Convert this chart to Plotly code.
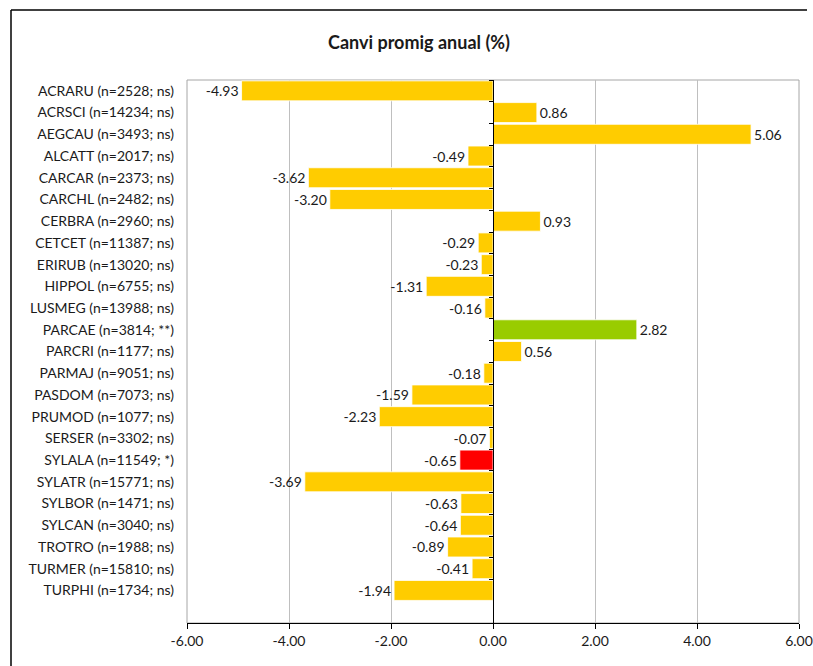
import plotly.graph_objects as go

species = ["ACRARU", "ACRSCI", "AEGCAU", "ALCATT", "CARCAR", "CARCHL", "CERBRA", "CETCET",
           "ERIRUB", "HIPPOL", "LUSMEG", "PARCAE", "PARCRI", "PARMAJ", "PASDOM", "PRUMOD",
           "SERSER", "SYLALA", "SYLATR", "SYLBOR", "SYLCAN", "TROTRO", "TURMER", "TURPHI"]
n_obs = [2528, 14234, 3493, 2017, 2373, 2482, 2960, 11387,
         13020, 6755, 13988, 3814, 1177, 9051, 7073, 1077,
         3302, 11549, 15771, 1471, 3040, 1988, 15810, 1734]
signif = ["ns", "ns", "ns", "ns", "ns", "ns", "ns", "ns",
          "ns", "ns", "ns", "**", "ns", "ns", "ns", "ns",
          "ns", "*", "ns", "ns", "ns", "ns", "ns", "ns"]
change = [-4.93, 0.86, 5.06, -0.49, -3.62, -3.20, 0.93, -0.29,
          -0.23, -1.31, -0.16, 2.82, 0.56, -0.18, -1.59, -2.23,
          -0.07, -0.65, -3.69, -0.63, -0.64, -0.89, -0.41, -1.94]
x_ticks = [-6, -4, -2, 0, 2, 4, 6]
x_tick_labels = ["-6.00", "-4.00", "-2.00", "0.00", "2.00", "4.00", "6.00"]

labels = [f"{s} (n={n}; {g})" for s, n, g in zip(species, n_obs, signif)]
value_texts = [f"{v:.2f}" for v in change]


def color_for(v, g):
    if g == "ns":
        return "#FFCC00"
    return "#99CC00" if v > 0 else "#FF0000"


colors = [color_for(v, g) for v, g in zip(change, signif)]

FONT = "Lato"
L, R, T, B = 187, 14, 80, 43
W, H = 813, 666
pw, ph = W - L - R, H - T - B


def px_x(p):
    return (p - L) / pw


def px_y(p):
    return (H - B - p) / ph


fig = go.Figure()
fig.add_trace(go.Bar(
    x=change, y=labels, orientation="h",
    marker=dict(color=colors, line=dict(color="white", width=0.8)),
    text=value_texts, textposition="outside", constraintext="none",
    textfont=dict(family=FONT, size=14, color="#1a1a1a"),
    cliponaxis=False, yaxis="y", hoverinfo="skip",
))
fig.add_trace(go.Scatter(
    x=[0] * len(labels), y=labels, yaxis="y2", mode="markers",
    marker=dict(opacity=0), hoverinfo="skip", showlegend=False,
))

fig.update_layout(
    width=W, height=H,
    margin=dict(l=L, r=R, t=T, b=B),
    paper_bgcolor="white", plot_bgcolor="white",
    showlegend=False, bargap=0.08,
    font=dict(family=FONT, size=14, color="#1a1a1a"),
    xaxis=dict(
        range=[-6, 6], tickvals=x_ticks, ticktext=x_tick_labels, automargin=False,
        showgrid=True, gridcolor="#BFBFBF", gridwidth=1, zeroline=False,
        showline=True, linecolor="black", linewidth=1,
        ticks="outside", ticklen=5, tickcolor="black",
        tickfont=dict(family=FONT, size=14, color="#1a1a1a"),
    ),
    yaxis=dict(
        type="category", categoryorder="array", categoryarray=labels, automargin=False,
        range=[24.5, -0.5], showgrid=False, zeroline=False, showline=False,
        ticks="", ticklabelstandoff=12,
        tickfont=dict(family=FONT, size=14, color="#1a1a1a"),
    ),
    yaxis2=dict(
        type="category", categoryorder="array", categoryarray=labels, automargin=False,
        range=[24.5, -0.5], overlaying="y", anchor="free", position=0.5, side="left",
        showline=True, linecolor="black", linewidth=1,
        ticks="outside", ticklen=4, tickcolor="black", tickson="boundaries",
        showticklabels=False, showgrid=False, zeroline=False,
    ),
    shapes=[
        dict(type="rect", xref="paper", yref="paper", x0=0, x1=1, y0=0, y1=1,
             line=dict(color="#A6A6A6", width=1), layer="below"),
        dict(type="line", xref="paper", yref="paper", x0=px_x(11), x1=px_x(807),
             y0=px_y(10), y1=px_y(10), line=dict(color="black", width=1.5)),
        dict(type="line", xref="paper", yref="paper", x0=px_x(11), x1=px_x(11),
             y0=px_y(666), y1=px_y(10), line=dict(color="black", width=1.5)),
    ],
    annotations=[
        dict(text="<b>Canvi promig anual (%)</b>", xref="paper", yref="paper",
             x=px_x(419), y=px_y(42), xanchor="center", yanchor="middle", showarrow=False,
             font=dict(family=FONT, size=18, color="#1a1a1a")),
    ],
)

fig.write_html("out.html", config={"displayModeBar": False},
               post_script="document.body.style.margin='0';document.body.style.overflow='hidden';")
